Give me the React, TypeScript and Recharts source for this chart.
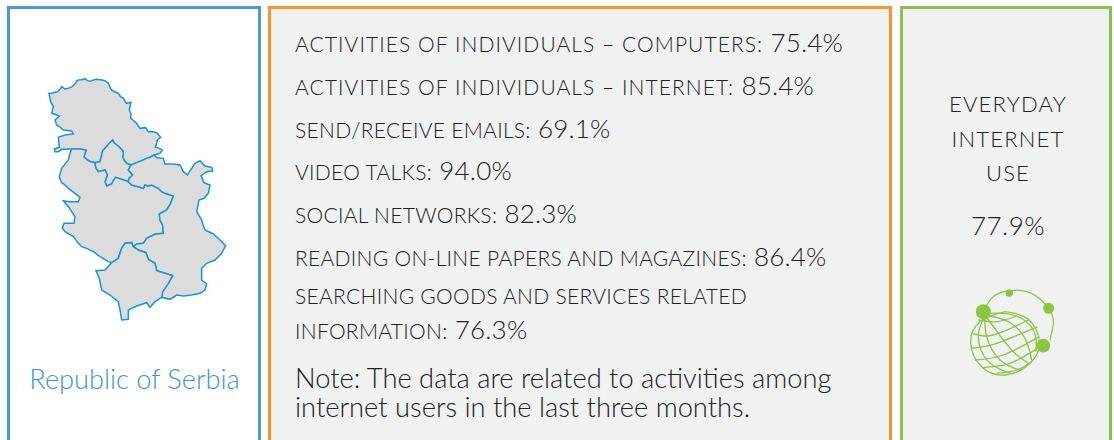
import { ScatterChart, Scatter, XAxis, YAxis } from 'recharts'

type Pt = [number, number]

const toPoints = (list: Pt[]) => list.map(([x, y]) => ({ x, y }))

// map outlines (map units = 1/3 px)
const vojvodina: Pt[] = [[147,100],[158,99],[165,97],[173,95],[180,88],[185,80],[195,87],[205,85],[216,80],[225,72],[230,63],[235,60],[245,59],[255,56],[262,62],[270,64],[280,60],[290,58],[305,60],[315,62],[325,70],[330,82],[335,90],[345,96],[355,100],[362,110],[370,115],[375,124],[380,130],[393,127],[390,140],[388,150],[393,163],[392,175],[402,183],[410,190],[420,205],[437,203],[445,215],[458,215],[470,218],[482,232],[472,240],[470,250],[466,262],[478,265],[487,270],[480,280],[462,285],[450,292],[440,295],[425,302],[410,308],[393,315],[380,310],[372,300],[368,290],[370,280],[368,272],[355,258],[343,250],[338,240],[328,250],[315,265],[308,272],[305,285],[300,305],[285,308],[272,305],[262,300],[252,290],[258,270],[240,267],[215,267],[185,268],[175,275],[165,275],[163,267],[178,262],[175,232],[195,225],[220,222],[215,213],[190,210],[178,200],[170,195],[165,180],[178,168],[155,160],[160,140],[152,125]]
const belgrade: Pt[] = [[338,240],[343,250],[355,258],[368,272],[370,280],[368,290],[372,300],[380,310],[393,315],[385,330],[398,345],[387,355],[385,365],[365,358],[347,352],[340,362],[335,372],[320,378],[315,365],[322,345],[315,330],[295,335],[288,325],[285,315],[285,308],[300,305],[305,285],[308,272],[315,265],[328,250]]
const westSerbia: Pt[] = [[215,267],[240,267],[258,270],[252,290],[262,300],[272,305],[285,308],[285,315],[288,325],[295,335],[315,330],[322,345],[315,365],[320,378],[335,372],[340,362],[347,352],[365,358],[385,365],[395,375],[415,380],[430,385],[435,375],[445,378],[455,375],[475,385],[485,395],[495,400],[520,408],[512,430],[500,450],[478,462],[480,480],[488,495],[490,520],[465,523],[440,535],[430,550],[410,552],[400,560],[395,548],[375,550],[365,565],[355,595],[335,608],[325,605],[300,590],[280,575],[260,565],[245,560],[235,550],[220,530],[195,515],[187,505],[192,490],[222,490],[225,470],[215,455],[205,440],[190,422],[210,425],[235,425],[240,412],[225,400],[205,385],[195,375],[185,368],[178,350],[185,325],[205,300],[210,280]]
const eastSerbia: Pt[] = [[393,315],[410,308],[425,302],[440,295],[450,292],[462,285],[470,293],[490,295],[495,312],[520,312],[540,315],[550,335],[562,345],[575,325],[585,310],[600,302],[615,318],[635,322],[638,333],[620,335],[603,347],[612,368],[630,375],[625,400],[612,415],[597,420],[590,455],[605,480],[610,497],[615,510],[640,522],[660,540],[677,557],[665,580],[645,600],[620,610],[605,625],[605,660],[620,672],[615,690],[600,700],[575,705],[550,708],[530,705],[510,718],[485,712],[488,695],[505,670],[518,647],[495,640],[470,632],[465,610],[445,598],[438,578],[415,570],[400,560],[410,552],[430,550],[440,535],[465,523],[490,520],[488,495],[480,480],[478,462],[500,450],[512,430],[520,408],[495,400],[485,395],[475,385],[455,375],[445,378],[435,375],[430,385],[415,380],[395,375],[385,365],[387,355],[398,345],[385,330]]
const kosovo: Pt[] = [[335,608],[355,595],[365,565],[375,550],[395,548],[400,560],[415,570],[438,578],[445,598],[465,610],[470,632],[495,640],[518,647],[505,670],[488,695],[485,712],[465,725],[450,742],[440,728],[410,738],[385,750],[385,778],[365,780],[362,760],[355,725],[330,705],[305,690],[298,655],[288,632],[315,630]]
const regions = [vojvodina, belgrade, westSerbia, eastSerbia, kosovo]

// globe icon traces
const globeOutline: Pt[] = [[165,95],[235,118],[268,185],[240,250],[165,285],[95,260],[62,190],[90,125],[165,95]]
const meridians: Pt[][] = [
  [[105,105],[85,170],[115,245],[190,282]],
  [[105,105],[110,170],[150,240],[215,272]],
  [[105,105],[145,160],[190,215],[235,250]],
  [[105,105],[175,125],[225,175],[245,240]],
  [[110,100],[190,105],[250,150],[258,215]],
]
const parallels: Pt[][] = [
  [[85,120],[140,125],[200,108]],
  [[68,160],[130,165],[235,120]],
  [[62,205],[140,190],[262,140]],
  [[75,240],[160,225],[268,170]],
  [[100,262],[180,250],[262,205]],
  [[140,280],[200,270],[245,245]],
]
const orbit: Pt[] = [[100,95],[130,50],[178,32],[240,38],[296,85],[310,130],[300,180]]
const nodeA: Pt[] = [[100,95]]
const nodeB: Pt[] = [[178,39]]
const nodeC: Pt[] = [[296,85]]
const nodeD: Pt[] = [[280,197]]

const activityLabels = [
  'ACTIVITIES OF INDIVIDUALS – COMPUTERS:',
  'ACTIVITIES OF INDIVIDUALS – INTERNET:',
  'SEND/RECEIVE EMAILS:',
  'VIDEO TALKS:',
  'SOCIAL NETWORKS:',
  'READING ON-LINE PAPERS AND MAGAZINES:',
]
const activityValues = ['75.4%', '85.4%', '69.1%', '94.0%', '82.3%', '86.4%']
const lastLabel = ['SEARCHING GOODS AND SERVICES RELATED', 'INFORMATION:']
const lastValue = '76.3%'
const noteLines = ['Note: The data are related to activities among', 'internet users in the last three months.']
const everydayLabel = ['EVERYDAY', 'INTERNET', 'USE']
const everydayValue = '77.9%'
const regionName = 'Republic of Serbia'

const rowTops = [25, 68, 111, 153, 196, 239]
const FONT = 'Lato, sans-serif'
const GREEN = '#8cc63f'
const BLUE = '#1a96cf'

const noDot = () => null
const node = (r: number) => (p: any) => <circle cx={p.cx} cy={p.cy} r={r} fill={GREEN} />

const panel = (left: number, width: number, color: string, fill: string): React.CSSProperties => ({
  position: 'absolute', left, top: 6, width, height: 460, boxSizing: 'border-box',
  border: `3px solid ${color}`, background: fill,
})

const rowText: React.CSSProperties = {
  position: 'absolute', left: 295, whiteSpace: 'nowrap', fontFamily: FONT, fontWeight: 300,
  fontSize: 21, lineHeight: '34px', color: '#222',
}

function Row({ top, label, value, spacing }: { top: number; label: string; value?: string; spacing: number }) {
  return (
    <div style={{ ...rowText, top, letterSpacing: spacing }}>
      {label}
      {value && <span style={{ fontSize: 26, letterSpacing: 0.2 }}> {value}</span>}
    </div>
  )
}

export default function App() {
  return (
    <div style={{ position: 'absolute', left: 0, top: 0, width: 1114, height: 440, overflow: 'hidden', background: '#fff' }}>
      <div style={panel(7, 254, '#4a9bd0', '#fff')} />
      <div style={panel(268, 624, '#f7942f', '#f0f1f1')} />
      <div style={panel(900, 212, '#8cc152', '#f0f1f1')} />

      <div style={{ position: 'absolute', left: 0, top: 60 }}>
        <ScatterChart width={270} height={280} margin={{ top: 0, right: 0, bottom: 0, left: 0 }}>
          <XAxis type="number" dataKey="x" domain={[0, 810]} hide />
          <YAxis type="number" dataKey="y" domain={[0, 840]} reversed hide />
          {regions.map((r, i) => (
            <Scatter
              key={i}
              data={toPoints(r)}
              isAnimationActive={false}
              shape={noDot}
              line={{ stroke: BLUE, strokeWidth: 1.5, fill: '#dcdcdc' }}
              lineJointType="linearClosed"
            />
          ))}
        </ScatterChart>
      </div>

      <div style={{ position: 'absolute', left: 950, top: 280 }}>
        <ScatterChart width={120} height={100} margin={{ top: 0, right: 0, bottom: 0, left: 0 }}>
          <XAxis type="number" dataKey="x" domain={[0, 360]} hide />
          <YAxis type="number" dataKey="y" domain={[0, 300]} reversed hide />
          {[globeOutline, ...meridians, ...parallels].map((r, i) => (
            <Scatter key={i} data={toPoints(r)} isAnimationActive={false} shape={noDot}
              line={{ stroke: GREEN, strokeWidth: 1.3, fill: 'none' }} lineJointType="natural" />
          ))}
          <Scatter data={toPoints(orbit)} isAnimationActive={false} shape={noDot}
            line={{ stroke: GREEN, strokeWidth: 1.2, fill: 'none' }} lineJointType="natural" />
          <Scatter data={toPoints(nodeA)} isAnimationActive={false} shape={node(7.5)} />
          <Scatter data={toPoints(nodeB)} isAnimationActive={false} shape={node(3.7)} />
          <Scatter data={toPoints(nodeC)} isAnimationActive={false} shape={node(5.5)} />
          <Scatter data={toPoints(nodeD)} isAnimationActive={false} shape={node(6.8)} />
        </ScatterChart>
      </div>

      <div style={{ position: 'absolute', left: 8, width: 253, top: 362, textAlign: 'center', fontFamily: FONT, fontWeight: 300, fontSize: 27.2, color: '#3d97d0' }}>
        {regionName}
      </div>

      {activityLabels.map((label, i) => (
        <Row key={label} top={rowTops[i]} label={label} value={activityValues[i]} spacing={i < 2 ? 1.07 : 0.3} />
      ))}
      <Row top={279} label={lastLabel[0]} spacing={0.3} />
      <Row top={312} label={lastLabel[1]} value={lastValue} spacing={0.3} />

      <div style={{ ...rowText, top: 363, fontSize: 27.3, lineHeight: '29px' }}>
        {noteLines[0]}<br />{noteLines[1]}
      </div>

      <div style={{ position: 'absolute', left: 902, width: 212, top: 87, textAlign: 'center', fontFamily: FONT, fontWeight: 300, fontSize: 22, lineHeight: '34.5px', letterSpacing: 1.2, color: '#222' }}>
        {everydayLabel.map((t) => <div key={t}>{t}</div>)}
        <div style={{ marginTop: 17, fontSize: 26, letterSpacing: 0.5 }}>{everydayValue}</div>
      </div>
    </div>
  )
}
